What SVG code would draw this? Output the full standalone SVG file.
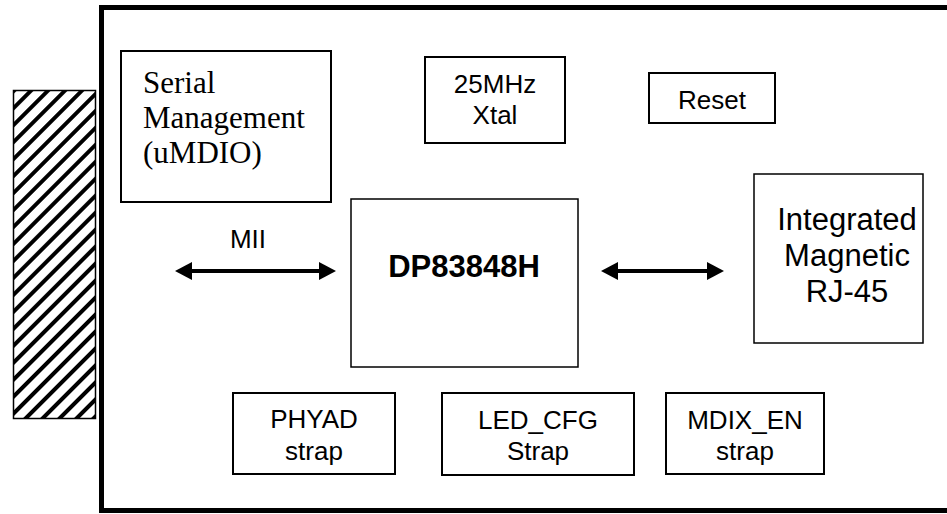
<svg xmlns="http://www.w3.org/2000/svg" width="947" height="514" viewBox="0 0 947 514">
<style>
.box{fill:#fff;stroke:#000;stroke-width:2}
.thin{fill:#fff;stroke:#000;stroke-width:1.5}
.t{font-family:"Liberation Sans",Arial,sans-serif;font-size:26px;fill:#000;text-anchor:middle}
.big{font-family:"Liberation Sans",Arial,sans-serif;font-size:31px;fill:#000;text-anchor:middle}
.serif{font-family:"Liberation Serif","Times New Roman",serif;font-size:31px;fill:#000}
.conn{stroke:#000;stroke-width:4;fill:none}
</style>
<defs>
<pattern id="hatch" patternUnits="userSpaceOnUse" width="12" height="12" patternTransform="rotate(-45)">
<rect width="12" height="12" fill="#fff"/>
<rect y="0" width="12" height="4" fill="#000"/>
</pattern>
<marker id="ah" markerUnits="userSpaceOnUse" markerWidth="17" markerHeight="18" refX="13" refY="9" orient="auto-start-reverse" viewBox="0 0 17 18">
<path d="M0,0 L17,9 L0,18 Z" fill="#000"/>
</marker>
</defs>
<rect width="947" height="514" fill="#fff"/>
<g id="connector-strip">
<rect x="13.5" y="90.5" width="82" height="328" fill="url(#hatch)" stroke="#000" stroke-width="1.5"/>
</g>
<g id="board">
<rect x="101.5" y="7.5" width="900" height="503" fill="none" stroke="#000" stroke-width="5"/>
</g>
<g id="serial-management">
<rect class="box" x="121" y="51" width="210" height="151"/>
<text class="serif" x="143" y="93">Serial</text>
<text class="serif" x="143" y="128">Management</text>
<text class="serif" x="143" y="163">(uMDIO)</text>
</g>
<g id="xtal">
<rect class="box" x="425" y="57" width="140" height="86"/>
<text class="t" x="495" y="93">25MHz</text>
<text class="t" x="495" y="124">Xtal</text>
</g>
<g id="reset">
<rect class="box" x="649" y="73" width="126" height="50"/>
<text class="t" x="712" y="109">Reset</text>
</g>
<g id="phy">
<rect class="thin" x="351" y="199" width="227" height="168"/>
<text class="big" x="464" y="277" font-weight="bold">DP83848H</text>
</g>
<g id="rj45">
<rect class="thin" x="754" y="174" width="169" height="169"/>
<text class="big" x="847" y="230">Integrated</text>
<text class="big" x="847" y="266">Magnetic</text>
<text class="big" x="847" y="302">RJ-45</text>
</g>
<g id="phyad">
<rect class="box" x="233" y="393" width="162" height="81"/>
<text class="t" x="314" y="428">PHYAD</text>
<text class="t" x="314" y="460">strap</text>
</g>
<g id="led-cfg">
<rect class="box" x="442" y="393" width="192" height="82"/>
<text class="t" x="538" y="429">LED_CFG</text>
<text class="t" x="538" y="460">Strap</text>
</g>
<g id="mdix-en">
<rect class="box" x="666" y="393" width="158" height="81"/>
<text class="t" x="745" y="429">MDIX_EN</text>
<text class="t" x="745" y="460">strap</text>
</g>
<g id="connectors">
<line class="conn" x1="179" y1="271" x2="332" y2="271" marker-start="url(#ah)" marker-end="url(#ah)"/>
<text class="t" x="248" y="248">MII</text>
<line class="conn" x1="605" y1="271" x2="720" y2="271" marker-start="url(#ah)" marker-end="url(#ah)"/>
</g>
</svg>
